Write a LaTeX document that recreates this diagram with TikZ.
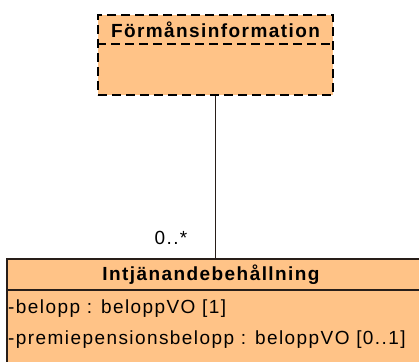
\documentclass[tikz,border=0pt]{standalone}
\usepackage{fontspec}
\setmainfont{Liberation Sans}[LetterSpace=7.5]
\definecolor{umlfill}{RGB}{255,195,135}
\definecolor{umlline}{RGB}{40,30,25}
\begin{document}
\begin{tikzpicture}[x=1pt,y=-1pt,
	font=\fontsize{19}{21}\selectfont,
	classbox/.style={draw=umlline,fill=umlfill,line width=1.8pt,inner sep=0pt},
	dashbox/.style={classbox,draw=black,dash pattern=on 9pt off 5pt},
	attr/.style={anchor=west,inner sep=0pt}]

		\useasboundingbox (0,0) rectangle (419,361);

		\node (info) at (215.5,55) [dashbox,minimum width=235pt,minimum height=80pt] {};
		\node (infoname) at (215.5,30) [font=\fontsize{19}{21}\selectfont\bfseries] {Förmånsinformation};
		\draw [line width=1.8pt,dash pattern=on 9pt off 5pt] (info.west |- 0,44) -- (info.east |- 0,44);

		\node (intj) at (216,315) [classbox,minimum width=418pt,minimum height=112pt] {};
		\node (intjname) at (211,275) [font=\fontsize{19}{21}\selectfont\bfseries] {Intjänandebehållning};
		\draw [line width=1.8pt,umlline] (intj.west |- 0,290) -- (intj.east |- 0,290);
		\node (belopp) at (8,309) [attr] {-belopp : beloppVO [1]};
		\node (premie) at (8,340) [attr] {-premiepensionsbelopp : beloppVO [0..1]};

		\draw [line width=1.8pt,umlline] (info.south) -- (info.south |- intj.north);
		\node (mult) at (171,238) {0..*};

\end{tikzpicture}
\end{document}
